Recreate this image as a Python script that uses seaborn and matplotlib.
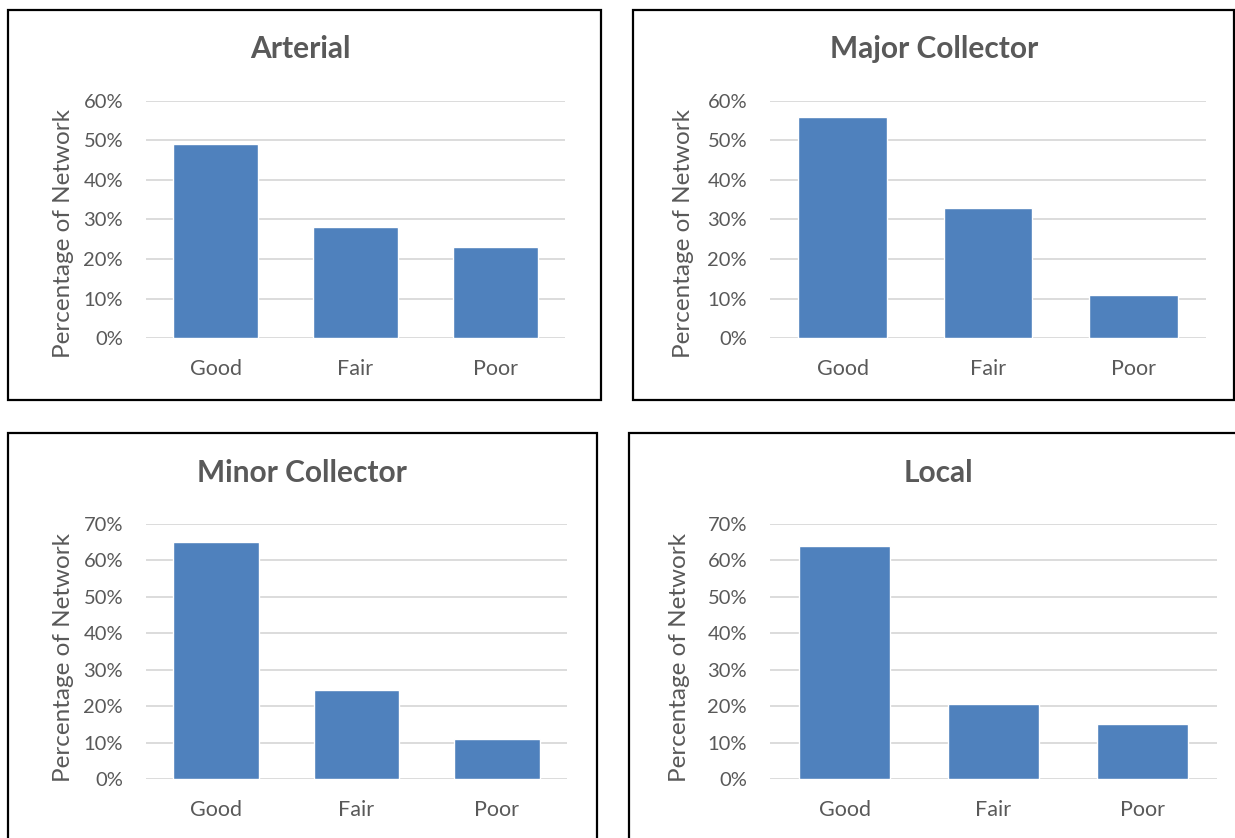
import matplotlib
matplotlib.use("Agg")
import matplotlib.pyplot as plt
from matplotlib.patches import Rectangle
from matplotlib.ticker import MultipleLocator, PercentFormatter
import pandas as pd
import seaborn as sns

# Pavement condition share by functional class
conditions = ["Good", "Fair", "Poor"]
arterial = [0.49, 0.28, 0.23]
major_collector = [0.56, 0.33, 0.11]
minor_collector = [0.65, 0.245, 0.11]
local = [0.64, 0.205, 0.15]

panel_titles = ["Arterial", "Major Collector", "Minor Collector", "Local"]
panel_values = [arterial, major_collector, minor_collector, local]
panel_ymax = [0.6, 0.6, 0.7, 0.7]

sns.set_theme(style="white")
plt.rcParams["font.family"] = ["Lato", "DejaVu Sans"]

W, H = 1235, 838
fig = plt.figure(figsize=(W / 100, H / 100), dpi=100)
fig.patch.set_facecolor("white")

BAR = "#4F81BD"
GRID = "#D9D9D9"
TEXT = "#595959"


def px_box(x0, y0, x1, y1):
    return [x0 / W, 1 - y1 / H, (x1 - x0) / W, (y1 - y0) / H]


# frames around each chart (pixel coordinates: left, top, right, bottom)
frames = [(8, 10, 601, 400), (633, 10, 1234, 400),
          (8, 433, 597, 845), (629, 433, 1240, 845)]
# plotting areas
areas = [(146, 101, 565, 338), (770, 101, 1206, 338),
         (146, 524, 567, 779), (770, 524, 1217, 779)]
title_pos = [(300, 49), (934, 49), (302, 473), (938, 473)]
ylabel_pos = [(63, 234), (684, 234), (63, 657), (680, 657)]

for (fx0, fy0, fx1, fy1) in frames:
    fig.patches.append(Rectangle((fx0 / W, 1 - fy1 / H), (fx1 - fx0) / W,
                                 (fy1 - fy0) / H, transform=fig.transFigure,
                                 fill=False, edgecolor="black", linewidth=1.6))

for title, vals, ymax, area, tpos, lpos in zip(panel_titles, panel_values,
                                                panel_ymax, areas, title_pos,
                                                ylabel_pos):
    ax = fig.add_axes(px_box(*area))
    df = pd.DataFrame({"Condition": conditions, "Share": vals})
    sns.barplot(data=df, x="Condition", y="Share", color=BAR, width=0.61,
                saturation=1, ax=ax, zorder=3)
    ax.set_ylim(0, ymax)
    ax.set_xlim(-0.5, 2.5)
    ax.yaxis.set_major_locator(MultipleLocator(0.1))
    ax.yaxis.set_major_formatter(PercentFormatter(1.0, decimals=0))
    ax.grid(axis="y", color=GRID, linewidth=1.3, zorder=0)
    ax.set_axisbelow(True)
    for side in ["top", "right", "left", "bottom"]:
        ax.spines[side].set_visible(False)
    ax.tick_params(axis="y", length=0, pad=16.5, labelsize=14.5,
                   labelcolor=TEXT)
    ax.tick_params(axis="x", length=0, pad=15, labelsize=15.5,
                   labelcolor=TEXT)
    ax.set_xlabel("")
    ax.set_ylabel("")
    fig.text(tpos[0] / W, 1 - tpos[1] / H, title, ha="center", va="center",
             fontsize=21.5, fontweight="bold", color=TEXT)
    fig.text(lpos[0] / W, 1 - lpos[1] / H, "Percentage of Network",
             ha="center", va="center", rotation=90, fontsize=17.5, color=TEXT)

fig.savefig("out.png", dpi=100, facecolor="white")
